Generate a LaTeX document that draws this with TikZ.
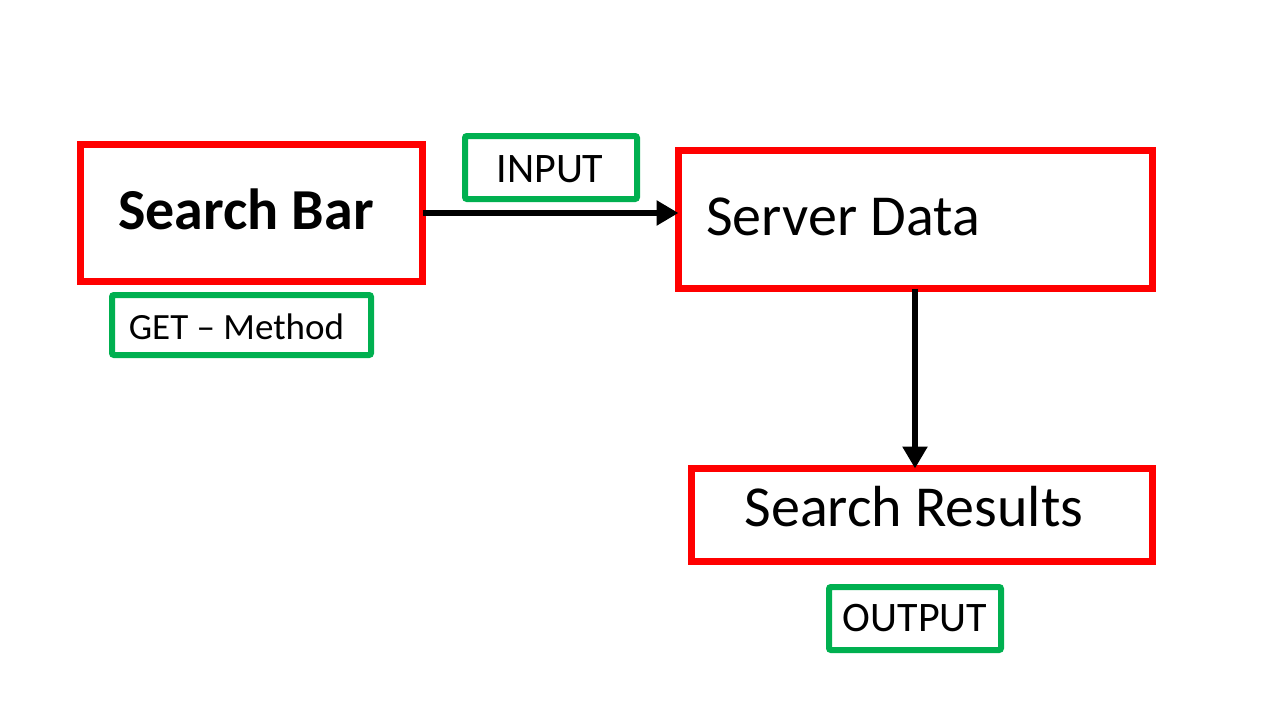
\documentclass[tikz,border=0pt]{standalone}
\usepackage{fontspec}
\setmainfont{Carlito}
\usetikzlibrary{arrows.meta}
\definecolor{boxred}{HTML}{FF0000}
\definecolor{boxgreen}{HTML}{00B050}
\tikzset{
  redbox/.style={draw=boxred, line width=7pt, fill=white, outer sep=0pt},
  greenbox/.style={draw=boxgreen, line width=6pt, rounded corners=2pt, fill=white, outer sep=0pt},
  bigtext/.style={font=\fontsize{58}{60}\selectfont, inner sep=0pt},
  smalltext/.style={font=\fontsize{42}{44}\selectfont, inner sep=0pt},
  conn/.style={line width=6pt, -{Triangle[length=22pt,width=24pt]}}
}
\begin{document}
\begin{tikzpicture}[x=1pt,y=-1pt]
\useasboundingbox[fill=white] (0,0) rectangle (1280,720);
% red boxes
\node[redbox, minimum width=342pt, minimum height=137pt, anchor=north west] (sb) at (80.5,144.5) {};
\node[redbox, minimum width=474pt, minimum height=138pt, anchor=north west] (sd) at (678.5,150.5) {};
\node[redbox, minimum width=461pt, minimum height=93pt, anchor=north west] (sr) at (691.5,468.5) {};
% green boxes
\node[greenbox, minimum width=172pt, minimum height=63pt, anchor=north west] (in) at (465,136) {};
\node[greenbox, minimum width=259pt, minimum height=60pt, anchor=north west] (gm) at (112,295) {};
\node[greenbox, minimum width=172pt, minimum height=63pt, anchor=north west] (out) at (829,587) {};
% texts
\node[bigtext, font=\fontsize{58}{60}\selectfont\bfseries, anchor=base] (sbt) at (246,229) {Search Bar};
\node[bigtext, anchor=base west] (sdt) at (706,235) {Server Data};
\node[bigtext, anchor=base] (srt) at (914,526) {Search Results};
\node[smalltext, anchor=base] (int) at (550,182) {INPUT};
\node[smalltext, font=\fontsize{37}{40}\selectfont, anchor=base] (gmt) at (236.5,339) {GET -- Method};
\node[smalltext, anchor=base] (outt) at (915,631) {OUTPUT};
% connectors
\draw[conn] (sb.east |- 0,213) -- (sd.west |- 0,213);
\draw[conn] (sd.south -| 915,0) -- (sr.north -| 915,0);
\end{tikzpicture}
\end{document}
